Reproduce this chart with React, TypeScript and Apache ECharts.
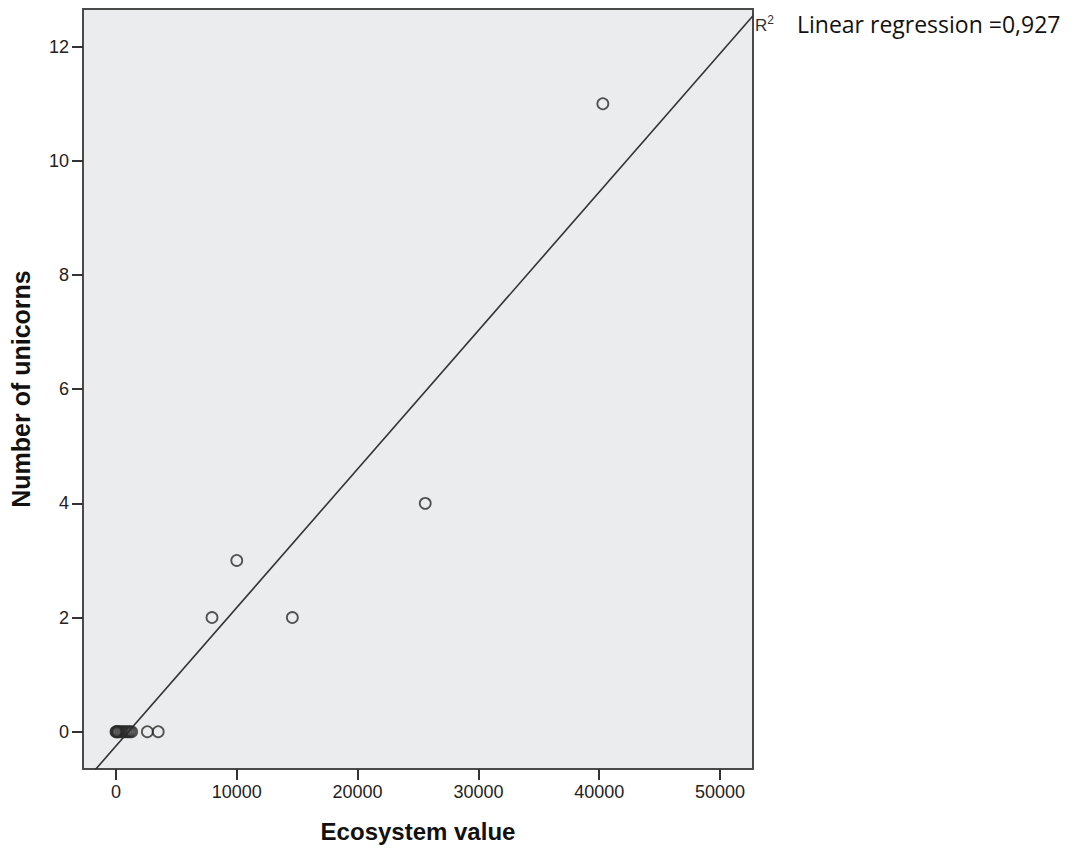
import React, { useEffect, useRef } from "react";
import * as echarts from "echarts";

// Observed data: [ecosystem value, number of unicorns]
const ecosystemValues = [0, 50, 100, 150, 250, 400, 550, 700, 850, 1000, 1150, 1300, 2600, 3500, 7950, 10000, 14600, 25600, 40300];
const unicornCounts = [0, 0, 0, 0, 0, 0, 0, 0, 0, 0, 0, 0, 0, 0, 2, 3, 2, 4, 11];

const xTicks = [0, 10000, 20000, 30000, 40000, 50000];
const yTicks = [0, 2, 4, 6, 8, 10, 12];

// Linear fit
const fitSlope = 0.0002426;
const fitIntercept = -0.25;
const xRange = [-2727, 52727];
const yRange = [-0.653, 12.66];
const r2Text = "0,927";

export default function App() {
  const ref = useRef<HTMLDivElement>(null);
  useEffect(() => {
    if (!ref.current) return;
    const chart = echarts.init(ref.current, undefined, { renderer: "svg" });
    const points = ecosystemValues.map((x, i) => [x, unicornCounts[i]]);
    const fitLine = xRange.map((x) => [x, fitIntercept + fitSlope * x]);
    const font = "'Liberation Sans', Arial, sans-serif";
    const axisCommon = {
      type: "value",
      nameLocation: "middle",
      axisLine: { show: true, onZero: false, lineStyle: { color: "#4a4a4a", width: 2 } },
      splitLine: { show: false },
    };
    chart.setOption({
      animation: false,
      backgroundColor: "#ffffff",
      textStyle: { fontFamily: font },
      grid: {
        left: 82,
        right: 323,
        top: 9,
        bottom: 82,
        show: true,
        backgroundColor: "#ebeced",
        borderColor: "#4a4a4a",
        borderWidth: 2,
      },
      xAxis: {
        ...axisCommon,
        min: xRange[0],
        max: xRange[1],
        name: "Ecosystem value",
        nameGap: 50,
        nameTextStyle: { fontFamily: font, fontWeight: "bold", fontSize: 24, color: "#111" },
        axisTick: { show: true, length: 11, inside: false, customValues: xTicks, lineStyle: { color: "#333", width: 2 } },
        axisLabel: { customValues: xTicks, fontSize: 18, color: "#222", margin: 14, fontFamily: font, formatter: (v: number) => String(v) },
      },
      yAxis: {
        ...axisCommon,
        min: yRange[0],
        max: yRange[1],
        name: "Number of unicorns",
        nameGap: 50,
        nameTextStyle: { fontFamily: font, fontWeight: "bold", fontSize: 25, color: "#111" },
        axisTick: { show: true, length: 11, inside: false, customValues: yTicks, lineStyle: { color: "#333", width: 2 } },
        axisLabel: { customValues: yTicks, fontSize: 18, color: "#222", margin: 14, fontFamily: font, formatter: (v: number) => String(v) },
      },
      graphic: [
        {
          type: "text",
          left: 755,
          top: 14,
          style: {
            text: "{b|R}{s|2}",
            rich: {
              b: { fontSize: 17, fontFamily: font, fill: "#333", verticalAlign: "bottom", lineHeight: 20 },
              s: { fontSize: 12, fontFamily: font, fill: "#333", verticalAlign: "top", lineHeight: 20 },
            },
          },
        },
        {
          type: "text",
          left: 797,
          top: 12,
          style: {
            text: "Linear regression =" + r2Text,
            fontSize: 23,
            fontFamily: "'Open Sans', sans-serif",
            fill: "#111",
          },
        },
      ],
      series: [
        {
          type: "line",
          data: fitLine,
          symbol: "none",
          clip: true,
          lineStyle: { color: "#333", width: 1.6 },
          z: 2,
        },
        {
          type: "scatter",
          data: points,
          symbol: "circle",
          symbolSize: 11,
          itemStyle: { color: "rgba(0,0,0,0)", borderColor: "#2a2a2a", borderWidth: 1.8 },
          z: 3,
        },
      ],
    });
    return () => chart.dispose();
  }, []);
  return <div ref={ref} style={{ position: "fixed", left: 0, top: 0, width: 1076, height: 851 }} />;
}
